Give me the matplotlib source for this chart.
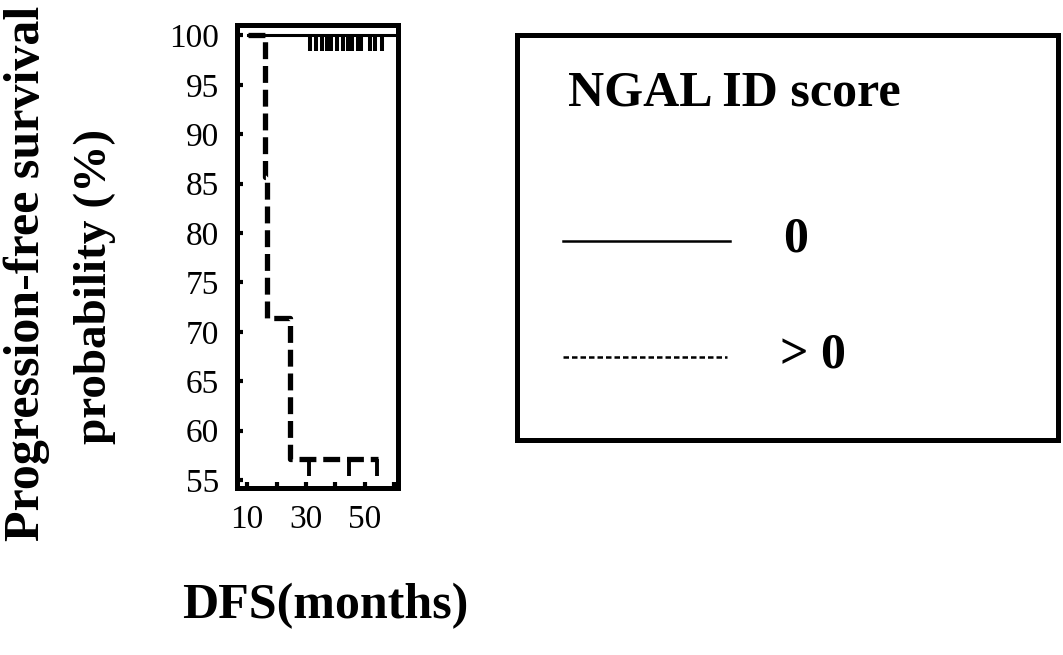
import matplotlib
matplotlib.use("Agg")
import matplotlib.pyplot as plt
from matplotlib.lines import Line2D

plt.rcParams['font.family'] = ['Liberation Serif', 'DejaVu Serif']

# NGAL ID score = 0 group (no events, only censored)
zero_t = [10.3, 61.2]
zero_s = [100, 100]
zero_censor = [31.3, 33.4, 35.4, 37.1, 38.5, 40.5, 42.5, 44.2, 45.6,
               47.6, 48.6, 51.7, 53.4, 55.8]

# NGAL ID score > 0 group
pos_t = [10.3, 16.1, 16.8, 24.6, 54.4]
pos_s = [100, 85.7, 71.4, 57.1, 57.1]
pos_censor = [31.0, 44.6, 54.0]

y_ticks = [55, 60, 65, 70, 75, 80, 85, 90, 95, 100]
x_labels = [10, 30, 50]
x_minor = [20, 40, 60]

W, H = 1063, 655
fig = plt.figure(figsize=(W / 100, H / 100), dpi=100)

# main plot
ax = fig.add_axes([237 / W, 1 - 488 / H, (398 - 237) / W, (488 - 24.5) / H])
ax.step(zero_t, zero_s, where='post', color='black', lw=2.2)
ax.plot(zero_censor, [100] * len(zero_censor), ls='none', marker=3,
        ms=11.5, mew=2.9, color='black')
ax.step(pos_t, pos_s, where='post', color='black', lw=3.8,
        dashes=(3.2, 1.3), solid_capstyle='butt')
ax.plot(pos_censor, [57.1] * len(pos_censor), ls='none', marker=3,
        ms=12, mew=2.8, color='black')

ax.set_xlim(6.6, 61.2)
ax.set_ylim(54.2, 101.1)
ax.set_yticks(y_ticks)
ax.set_xticks(x_labels)
ax.set_xticks(x_minor, minor=True)
ax.tick_params(axis='both', which='both', direction='in', length=4,
               width=3, labelsize=24)
ax.tick_params(axis='y', pad=13)
ax.tick_params(axis='x', pad=12)
for sp in ax.spines.values():
    sp.set_linewidth(3.6)

# axis titles
fig.text(27 / W, 1 - 273 / H, "Progression-free survival", rotation=90,
         ha='center', va='center', fontsize=36, fontweight='bold')
fig.text(95 / W, 1 - 286 / H, "probability (%)", rotation=90,
         ha='center', va='center', fontsize=34, fontweight='bold')
fig.text(325 / W, 1 - 606 / H, "DFS(months)", ha='center', va='center',
         fontsize=36, fontweight='bold')

# legend box
lg = fig.add_axes([517 / W, 1 - 440 / H, (1058 - 517) / W, (440 - 35) / H])
lg.set_xlim(0, 1)
lg.set_ylim(0, 1)
lg.set_xticks([])
lg.set_yticks([])
for sp in lg.spines.values():
    sp.set_linewidth(3.6)
lg.text(51 / 541, 1 - 58 / 405, "NGAL ID score", ha='left', va='center',
        fontsize=36, fontweight='bold')
lg.add_line(Line2D([46 / 541, 213 / 541], [1 - 206 / 405] * 2,
                   color='black', lw=1.8))
lg.text(266 / 541, 1 - 204 / 405, "0", ha='left', va='center',
        fontsize=36, fontweight='bold')
lg.add_line(Line2D([46 / 541, 210 / 541], [1 - 322 / 405] * 2,
                   color='black', lw=1.8, dashes=(2.2, 1.2)))
lg.text(263 / 541, 1 - 320 / 405, "> 0", ha='left', va='center',
        fontsize=36, fontweight='bold')

fig.savefig("out.png", dpi=100)
